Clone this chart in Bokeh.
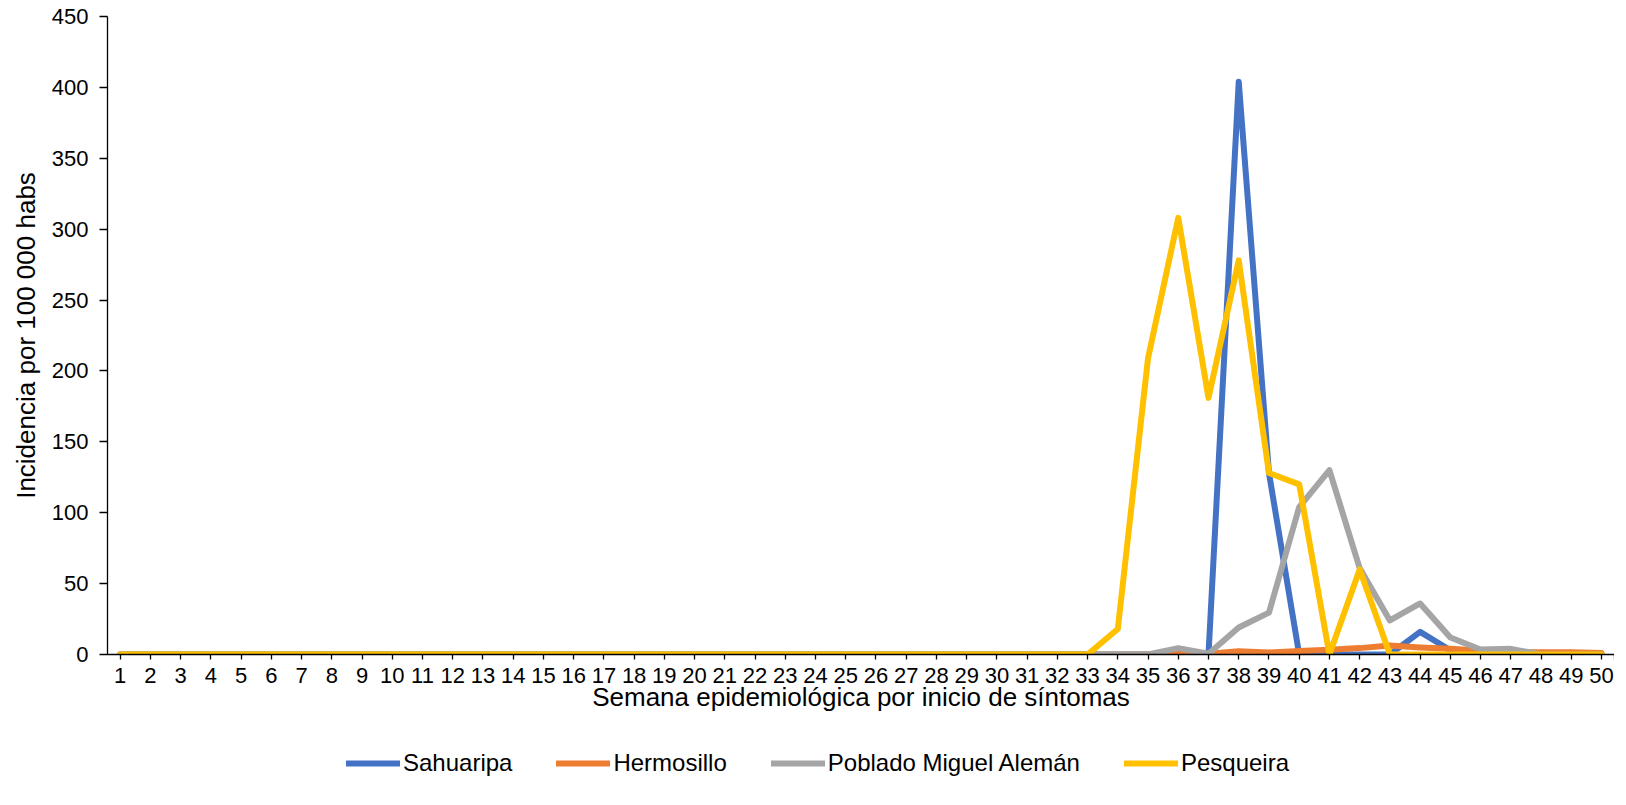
from bokeh.plotting import figure
from bokeh.layouts import column
from bokeh.models import Legend, LegendItem, Range1d, FixedTicker
from bokeh.embed import file_html
from bokeh.resources import INLINE

weeks = list(range(1, 51))
sahuaripa = [0] * 37 + [404, 128, 0, 0, 0, 0, 16, 3, 0, 0, 0, 0, 0]
hermosillo = [0] * 34 + [0, 1.6, 0.5, 2.3, 1.4, 2.5, 3.4, 4.5, 6.4, 5, 4, 2.7, 1.8, 1.5, 1.5, 1]
poblado = [0] * 35 + [4.5, 0.5, 19, 29.5, 104, 130, 61, 24, 36, 12, 3.5, 4, 0, 0, 0]
pesqueira = [0] * 33 + [18, 209, 308, 181, 278, 128, 120, 0, 60, 0, 0, 0, 0, 0, 0, 0, 0]
names = ["Sahuaripa", "Hermosillo", "Poblado Miguel Alemán", "Pesqueira"]
colors = ["#4472C4", "#ED7D31", "#A5A5A5", "#FFC000"]
y_ticks = list(range(0, 451, 50))

FONT = "Liberation Sans"
X_START, X_END = 0.58, 50.43

p = figure(width=1614, height=726, output_backend="svg", toolbar_location=None,
           x_range=Range1d(X_START, X_END), y_range=Range1d(0, 450),
           min_border_left=107, min_border_right=0, min_border_top=16, min_border_bottom=72)
p.outline_line_color = None
p.xgrid.visible = False
p.ygrid.visible = False
p.background_fill_color = "white"
p.border_fill_color = "white"

for series, c in zip([sahuaripa, hermosillo, poblado, pesqueira], colors):
    p.line(weeks, series, line_color=c, line_width=6, line_join="round", line_cap="round")

xa = p.xaxis[0]
xa.ticker = FixedTicker(ticks=weeks + [X_END])
xa.major_label_overrides = {X_END: ""}
xa.minor_tick_line_color = None
xa.major_tick_out = 5
xa.major_tick_in = 0
xa.axis_line_color = "black"
xa.axis_line_width = 1.3
xa.major_tick_line_color = "black"
xa.major_tick_line_width = 1.3
xa.major_label_text_font = FONT
xa.major_label_text_font_size = "22px"
xa.major_label_text_color = "black"
xa.major_label_standoff = 8
xa.axis_label = "Semana epidemiológica por inicio de síntomas"
xa.axis_label_text_font = FONT
xa.axis_label_text_font_size = "26px"
xa.axis_label_text_font_style = "normal"
xa.axis_label_text_color = "black"
xa.axis_label_standoff = -4

ya = p.yaxis[0]
ya.ticker = FixedTicker(ticks=y_ticks)
ya.minor_tick_line_color = None
ya.major_tick_out = 8
ya.major_tick_in = 0
ya.axis_line_color = "black"
ya.axis_line_width = 1.3
ya.major_tick_line_color = "black"
ya.major_tick_line_width = 1.3
ya.major_label_text_font = FONT
ya.major_label_text_font_size = "22px"
ya.major_label_text_color = "black"
ya.major_label_standoff = 11
ya.axis_label = "Incidencia por 100 000 habs"
ya.axis_label_text_font = FONT
ya.axis_label_text_font_size = "26px"
ya.axis_label_text_font_style = "normal"
ya.axis_label_text_color = "black"
ya.axis_label_standoff = 8

# legend strip below the chart
pl = figure(width=1614, height=56, output_backend="svg", toolbar_location=None,
            x_axis_type=None, y_axis_type=None, x_range=Range1d(0, 1), y_range=Range1d(0, 1),
            min_border_left=0, min_border_right=0, min_border_top=0, min_border_bottom=0)
pl.outline_line_color = None
pl.xgrid.visible = False
pl.ygrid.visible = False
leg_renderers = [pl.line([5, 6], [5, 6], line_color=c, line_width=6, line_cap="round") for c in colors]
items = [LegendItem(label=n, renderers=[r]) for n, r in zip(names, leg_renderers)]
legend = Legend(items=items, orientation="horizontal", location=(239, 5),
                glyph_width=54, glyph_height=24, label_standoff=3, spacing=44,
                padding=0, margin=0, border_line_color=None, background_fill_alpha=0,
                label_text_font=FONT, label_text_font_size="24px", label_text_color="black",
                label_height=24)
pl.add_layout(legend, "center")

layout = column(p, pl, spacing=0)
open("out.html", "w").write(file_html(layout, INLINE))
